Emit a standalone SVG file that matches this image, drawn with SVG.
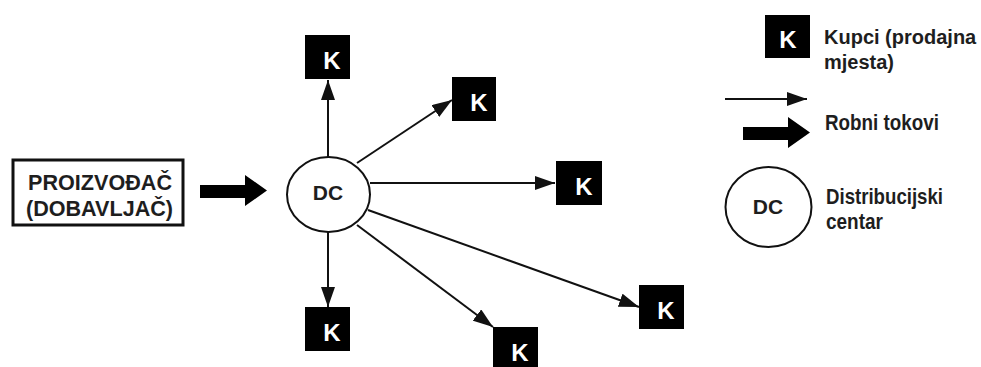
<svg xmlns="http://www.w3.org/2000/svg" width="981" height="367" viewBox="0 0 981 367">
<defs>
<style>
.t{font-family:"Liberation Sans",Arial,sans-serif;font-weight:bold;fill:#1e1e1e;}
.k{fill:#000;}
.kt{font-family:"Liberation Sans",Arial,sans-serif;font-weight:bold;font-size:24px;fill:#fff;text-anchor:middle;}
.ln{stroke:#111;stroke-width:2;fill:none;}
.el{fill:#fff;stroke:#111;stroke-width:2;}
</style>
<marker id="ah" markerUnits="userSpaceOnUse" markerWidth="20" markerHeight="14" refX="20" refY="7" orient="auto">
<path d="M0,0 L20,7 L0,14 z" fill="#111"/>
</marker>
</defs>
<rect width="981" height="367" fill="#fff"/>

<g id="producer">
<rect x="13" y="160" width="170" height="65" fill="#fff" stroke="#111" stroke-width="3"/>
<text class="t" x="28" y="190" font-size="22" textLength="144" lengthAdjust="spacingAndGlyphs">PROIZVOĐAČ</text>
<text class="t" x="26" y="216" font-size="22" textLength="147" lengthAdjust="spacingAndGlyphs">(DOBAVLJAČ)</text>
</g>

<g id="flow-arrow">
<polygon points="200,185 245,185 245,175 267,190.5 245,206 245,198 200,198" fill="#000"/>
</g>

<g id="connectors">
<line class="ln" x1="328" y1="157" x2="328" y2="80" marker-end="url(#ah)"/>
<line class="ln" x1="357" y1="163" x2="452" y2="100" marker-end="url(#ah)"/>
<line class="ln" x1="370" y1="183" x2="555" y2="183" marker-end="url(#ah)"/>
<line class="ln" x1="328" y1="232" x2="328" y2="307" marker-end="url(#ah)"/>
<line class="ln" x1="357" y1="225" x2="493" y2="327" marker-end="url(#ah)"/>
<line class="ln" x1="368" y1="210" x2="639" y2="307" marker-end="url(#ah)"/>
</g>

<g id="dc">
<ellipse class="el" cx="328.5" cy="194.5" rx="41.5" ry="37.5"/>
<text class="t" x="328" y="200" font-size="21" text-anchor="middle">DC</text>
</g>

<g id="k1"><rect class="k" x="305" y="35" width="45" height="44"/><text class="kt" x="332" y="69">K</text></g>
<g id="k2"><rect class="k" x="452" y="77" width="44" height="44"/><text class="kt" x="479" y="111">K</text></g>
<g id="k3"><rect class="k" x="556" y="161" width="46" height="44"/><text class="kt" x="584" y="195">K</text></g>
<g id="k4"><rect class="k" x="305" y="307" width="45" height="44"/><text class="kt" x="332" y="341">K</text></g>
<g id="k5"><rect class="k" x="493" y="327" width="45" height="44"/><text class="kt" x="520" y="361">K</text></g>
<g id="k6"><rect class="k" x="639" y="285" width="45" height="44"/><text class="kt" x="666" y="319">K</text></g>

<g id="legend-k">
<rect class="k" x="765" y="15" width="45" height="43"/>
<text class="kt" x="788" y="48">K</text>
<text class="t" x="824" y="44" font-size="20">Kupci (prodajna</text>
<text class="t" x="824" y="69" font-size="20">mjesta)</text>
</g>

<g id="legend-flow">
<line class="ln" x1="725" y1="99" x2="807" y2="99" marker-end="url(#ah)"/>
<polygon points="743,127 788,127 788,117 810,132.5 788,148 788,140 743,140" fill="#000"/>
<text class="t" x="825" y="130" font-size="22" textLength="114" lengthAdjust="spacingAndGlyphs">Robni tokovi</text>
</g>

<g id="legend-dc">
<ellipse class="el" cx="768.5" cy="207" rx="43" ry="40"/>
<text class="t" x="768" y="214" font-size="21" text-anchor="middle">DC</text>
<text class="t" x="826" y="204" font-size="22" textLength="117" lengthAdjust="spacingAndGlyphs">Distribucijski</text>
<text class="t" x="826" y="229" font-size="22" textLength="57" lengthAdjust="spacingAndGlyphs">centar</text>
</g>
</svg>
